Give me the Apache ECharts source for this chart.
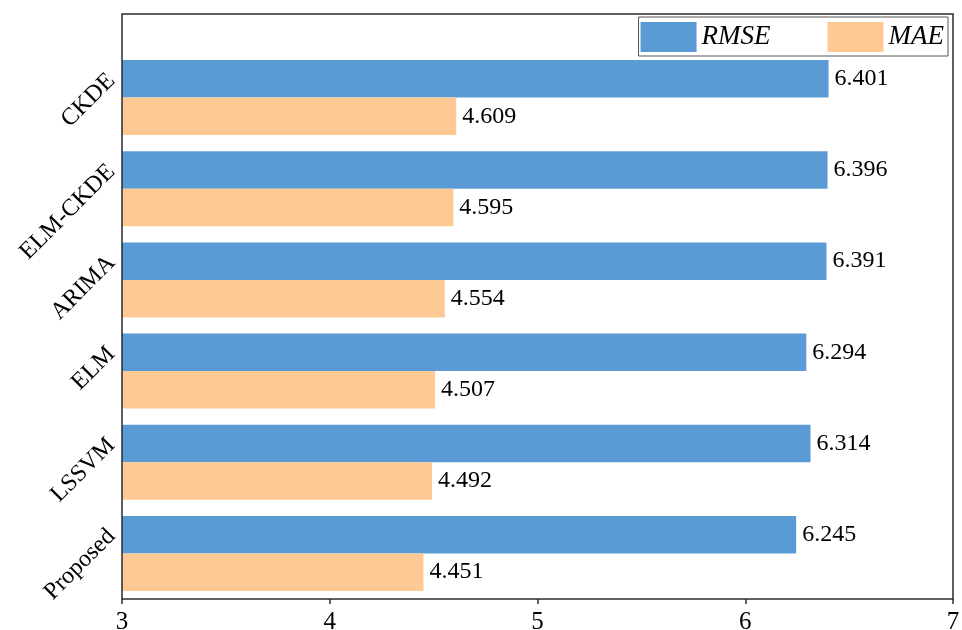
<!DOCTYPE html>
<html>
<head>
<meta charset="utf-8">
<title>RMSE / MAE comparison</title>
<script src="https://cdn.jsdelivr.net/npm/echarts@6/dist/echarts.min.js"></script>
<style>
  html, body { margin: 0; padding: 0; background: #fff; }
  #chart { width: 962px; height: 630px; }
</style>
</head>
<body>
<div id="chart"></div>
<script>
// Methods, listed from the bottom of the axis to the top
const methods = ['Proposed', 'LSSVM', 'ELM', 'ARIMA', 'ELM-CKDE', 'CKDE'];
const rmseValues = [6.245, 6.314, 6.294, 6.391, 6.396, 6.401];
const maeValues = [4.451, 4.492, 4.507, 4.554, 4.595, 4.609];
const xTicks = { min: 3, max: 7, interval: 1 };

const SERIF = "'Liberation Serif', 'Times New Roman', serif";
const FRAME = '#2b2b2b';

const chart = echarts.init(document.getElementById('chart'), null, { renderer: 'canvas' });

const valueLabel = {
  show: true,
  position: 'right',
  distance: 6,
  color: '#000',
  fontFamily: SERIF,
  fontSize: 24,
  formatter: p => p.value.toFixed(3)
};

chart.setOption({
  animation: false,
  backgroundColor: '#fff',
  grid: {
    left: 122, right: 9, top: 52, bottom: 31,
    containLabel: false,
    outerBoundsMode: 'none'
  },
  // outer frame of the plotting area, taller than the category band to leave room for the legend
  graphic: [{
    type: 'rect',
    shape: { x: 122, y: 14, width: 831, height: 585 },
    style: { fill: 'none', stroke: FRAME, lineWidth: 1.5 },
    silent: true,
    z: 10
  }],
  legend: {
    right: 14,
    top: 17,
    orient: 'horizontal',
    icon: 'rect',
    itemWidth: 56,
    itemHeight: 30,
    itemGap: 57,
    padding: [5, 4, 4, 2],
    borderColor: '#555',
    borderWidth: 1,
    textStyle: { fontFamily: SERIF, fontStyle: 'italic', fontSize: 27, color: '#000' },
    data: ['RMSE', 'MAE']
  },
  xAxis: {
    type: 'value',
    min: xTicks.min,
    max: xTicks.max,
    interval: xTicks.interval,
    axisLine: { show: false },
    axisTick: { show: true, inside: false, length: 5, lineStyle: { color: FRAME, width: 1.5 } },
    axisLabel: { color: '#000', fontFamily: SERIF, fontSize: 25, margin: 11 },
    splitLine: { show: false }
  },
  yAxis: {
    type: 'category',
    data: methods,
    axisLine: { show: false },
    axisTick: { show: false },
    axisLabel: {
      color: '#000', fontFamily: SERIF, fontSize: 24, rotate: 45,
      margin: -10, verticalAlign: 'bottom', lineHeight: 58
    },
    splitLine: { show: false }
  },
  series: [
    {
      name: 'RMSE',
      type: 'bar',
      data: rmseValues,
      barWidth: 37.5,
      barGap: '0%',
      itemStyle: { color: '#5B9BD5' },
      label: valueLabel
    },
    {
      name: 'MAE',
      type: 'bar',
      data: maeValues,
      barWidth: 37.5,
      barGap: '0%',
      itemStyle: { color: '#FFC994' },
      label: valueLabel
    }
  ]
});
</script>
</body>
</html>
